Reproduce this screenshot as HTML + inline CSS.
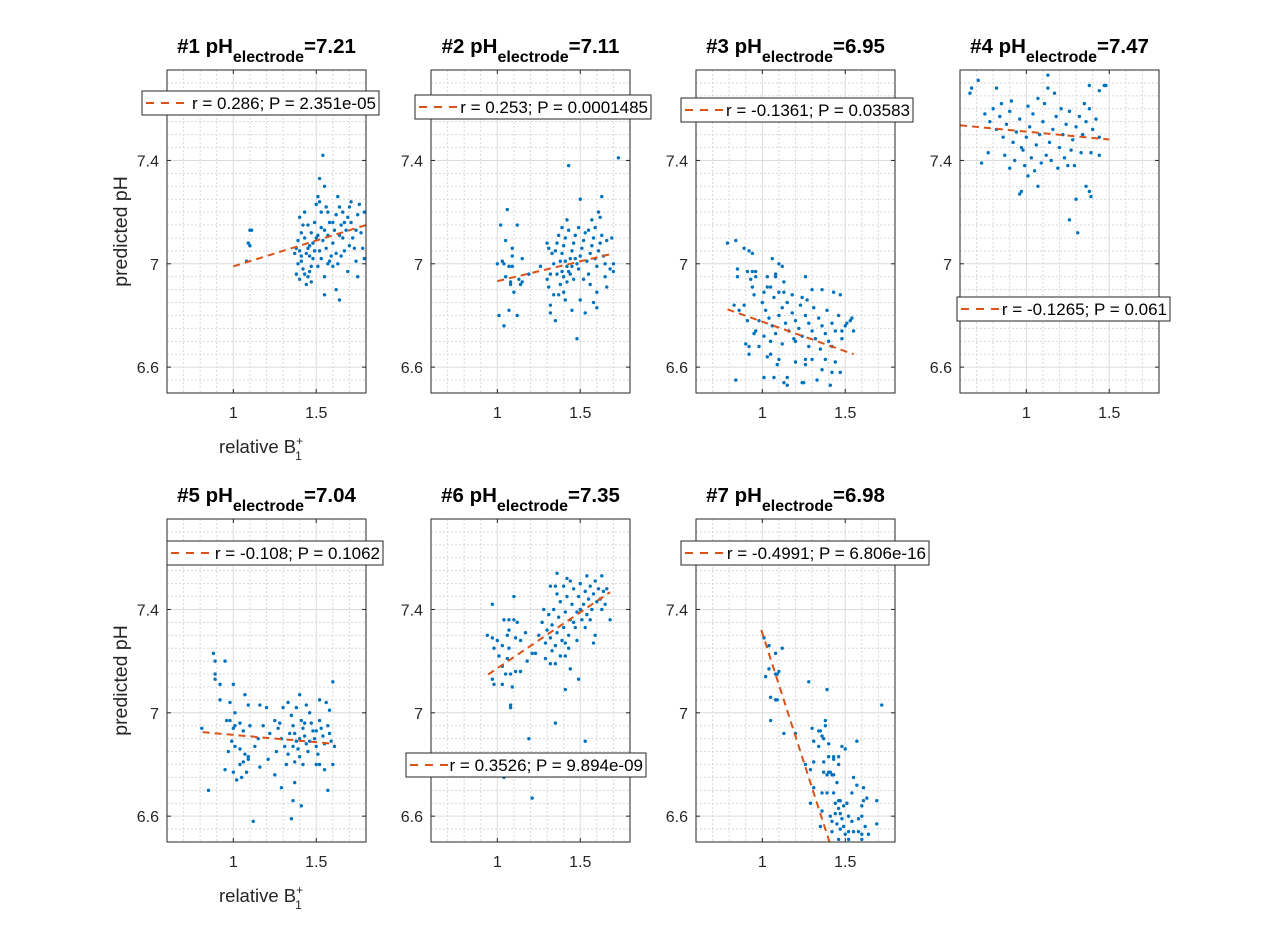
<!DOCTYPE html>
<html><head><meta charset="utf-8"><style>
html,body{margin:0;padding:0;background:#fff;}
svg{display:block;font-family:"Liberation Sans",Arial,sans-serif;}
</style></head><body>
<svg id="fig" width="1280" height="947" viewBox="0 0 1280 947" xmlns="http://www.w3.org/2000/svg"></svg>
<script>
const panelTitles = ["7.21","7.11","6.95","7.47","7.04","7.35","6.98"];
const legendLabels = ["r = 0.286; P = 2.351e-05","r = 0.253; P = 0.0001485","r = -0.1361; P = 0.03583","r = -0.1265; P = 0.061","r = -0.108; P = 0.1062","r = 0.3526; P = 9.894e-09","r = -0.4991; P = 6.806e-16"];
const xTicks = [1, 1.5];
const yTicks = [6.6, 7, 7.4];
const fitX0 = [1.0, 1.0, 0.79, 0.6, 0.815, 0.944, 0.994];
const fitY0 = [6.99, 6.933, 6.824, 7.536, 6.925, 7.148, 7.32];
const fitX1 = [1.8, 1.70, 1.55, 1.50, 1.61, 1.68, 1.45];
const fitY1 = [7.15, 7.04, 6.65, 7.481, 6.88, 7.467, 6.41];

const p1 = [[1.54,7.42],[1.52,7.33],[1.55,7.30],[1.10,7.13],[1.11,7.13],[1.09,7.08],[1.10,7.07],[1.08,7.01],[1.55,6.88],[1.62,6.90],[1.64,6.86],[1.79,7.02],[1.38,7.06],[1.40,7.05],[1.37,7.04],[1.39,7.00],[1.41,7.01],[1.42,6.98],[1.43,6.96],[1.40,6.94],[1.45,6.95],[1.38,6.96],[1.44,6.92],[1.47,6.93],[1.46,6.97],[1.39,7.09],[1.41,7.12],[1.42,7.15],[1.40,7.18],[1.43,7.10],[1.45,7.06],[1.46,7.03],[1.48,7.08],[1.47,7.12],[1.49,7.16],[1.50,7.23],[1.51,7.26],[1.52,7.24],[1.53,7.20],[1.50,7.10],[1.52,7.05],[1.53,7.02],[1.54,7.09],[1.55,7.13],[1.56,7.06],[1.57,7.11],[1.58,7.16],[1.57,7.20],[1.59,7.03],[1.60,7.08],[1.61,7.13],[1.62,7.19],[1.63,7.26],[1.64,7.22],[1.65,7.15],[1.66,7.10],[1.67,7.05],[1.68,7.13],[1.69,7.18],[1.70,7.22],[1.71,7.16],[1.72,7.10],[1.73,7.06],[1.74,7.13],[1.75,7.19],[1.76,7.23],[1.77,7.12],[1.78,7.06],[1.79,7.20],[1.69,6.97],[1.75,6.95],[1.60,6.99],[1.55,6.95],[1.58,7.01],[1.62,7.04],[1.48,7.02],[1.51,6.99],[1.44,7.04],[1.46,7.07],[1.49,7.05],[1.53,7.14],[1.60,7.16],[1.65,7.03],[1.70,7.07],[1.56,7.22],[1.64,7.11],[1.66,7.20],[1.45,7.15],[1.43,7.20],[1.51,7.11],[1.57,7.00],[1.63,7.00],[1.47,6.99],[1.41,7.03],[1.67,7.16],[1.71,7.24],[1.74,7.01]];
const p2 = [[1.73,7.41],[1.43,7.38],[1.50,7.25],[1.63,7.26],[1.06,7.21],[1.02,7.15],[1.12,7.15],[1.05,7.09],[1.09,7.06],[1.09,7.03],[1.15,7.02],[1.0,7.0],[1.03,7.01],[1.04,7.0],[1.07,6.99],[1.09,6.99],[1.05,6.95],[1.08,6.93],[1.08,6.92],[1.10,6.89],[1.13,6.94],[1.15,6.93],[1.14,6.92],[1.19,6.96],[1.26,6.99],[1.01,6.80],[1.07,6.82],[1.12,6.80],[1.04,6.76],[1.35,6.78],[1.48,6.71],[1.53,6.81],[1.32,6.84],[1.32,6.81],[1.42,7.17],[1.39,7.14],[1.57,7.17],[1.61,7.20],[1.62,7.18],[1.59,7.14],[1.66,7.09],[1.69,7.10],[1.70,7.00],[1.70,6.97],[1.68,6.98],[1.65,6.95],[1.66,6.91],[1.60,6.89],[1.60,6.83],[1.58,6.85],[1.50,6.86],[1.45,6.82],[1.41,6.86],[1.40,6.89],[1.37,6.88],[1.34,6.88],[1.31,6.91],[1.30,6.94],[1.32,6.96],[1.30,7.08],[1.31,7.06],[1.33,7.04],[1.35,7.05],[1.36,7.08],[1.38,7.01],[1.39,7.04],[1.40,7.07],[1.41,7.10],[1.42,6.99],[1.43,6.97],[1.44,7.02],[1.45,7.05],[1.46,7.08],[1.47,7.11],[1.48,7.00],[1.49,6.98],[1.50,7.03],[1.51,7.06],[1.52,7.09],[1.53,7.12],[1.54,7.01],[1.55,6.96],[1.56,7.04],[1.57,7.07],[1.58,7.10],[1.59,7.02],[1.60,6.99],[1.61,7.05],[1.62,7.08],[1.63,7.11],[1.64,7.03],[1.65,7.00],[1.40,6.95],[1.42,6.93],[1.44,6.96],[1.38,6.92],[1.36,6.96],[1.46,6.94],[1.52,6.94],[1.56,6.92],[1.34,7.00],[1.37,7.11],[1.43,7.13],[1.49,7.14],[1.55,7.13],[1.45,6.99],[1.47,7.02],[1.41,7.01],[1.39,6.97]];
const p3 = [[0.79,7.08],[0.84,7.09],[0.89,7.06],[0.92,7.05],[0.94,7.04],[1.06,7.02],[1.10,7.0],[1.12,6.99],[0.85,6.98],[0.85,6.95],[0.91,6.97],[0.94,6.97],[0.96,6.97],[0.96,6.95],[0.93,6.94],[1.08,6.96],[1.08,6.95],[1.03,6.95],[1.13,6.93],[1.26,6.95],[0.94,6.91],[1.03,6.91],[0.95,6.88],[1.01,6.89],[1.05,6.91],[1.10,6.89],[1.13,6.89],[1.30,6.90],[1.36,6.90],[1.43,6.89],[1.47,6.88],[1.18,6.88],[1.24,6.87],[0.83,6.84],[0.86,6.82],[0.89,6.84],[0.91,6.78],[0.95,6.73],[0.96,6.74],[0.90,6.69],[0.92,6.68],[0.92,6.65],[0.98,6.68],[0.84,6.55],[1.01,6.56],[1.07,6.56],[1.15,6.56],[1.13,6.54],[1.15,6.53],[1.20,6.62],[1.26,6.63],[1.26,6.61],[1.24,6.54],[1.25,6.54],[1.33,6.55],[1.36,6.59],[1.42,6.58],[1.41,6.53],[1.47,6.58],[1.44,6.62],[1.38,6.63],[1.30,6.63],[1.55,6.74],[1.54,6.79],[1.53,6.78],[1.51,6.77],[1.48,6.71],[1.48,6.74],[1.03,6.64],[1.05,6.65],[1.10,6.63],[1.09,6.61],[1.00,6.85],[1.02,6.82],[1.04,6.79],[1.06,6.76],[1.08,6.73],[1.10,6.80],[1.12,6.83],[1.14,6.77],[1.16,6.74],[1.18,6.81],[1.20,6.78],[1.22,6.75],[1.24,6.72],[1.26,6.80],[1.28,6.77],[1.30,6.74],[1.32,6.71],[1.34,6.79],[1.36,6.76],[1.38,6.73],[1.40,6.70],[1.42,6.77],[1.44,6.74],[1.05,6.70],[1.12,6.69],[1.20,6.70],[1.28,6.68],[1.35,6.67],[1.42,6.68],[0.98,6.78],[1.01,6.72],[1.15,6.85],[1.23,6.84],[1.31,6.83],[1.39,6.82],[1.46,6.80],[1.50,6.76],[1.07,6.87],[1.27,6.86],[1.19,6.71]];
const p4 = [[0.66,7.66],[0.67,7.68],[0.71,7.71],[0.82,7.68],[1.13,7.73],[1.13,7.68],[1.38,7.69],[1.44,7.67],[1.47,7.69],[1.48,7.69],[0.73,7.39],[0.90,7.37],[1.01,7.34],[1.07,7.30],[0.96,7.27],[0.97,7.28],[1.25,7.38],[1.29,7.38],[1.36,7.30],[1.30,7.25],[1.38,7.28],[1.39,7.26],[1.26,7.17],[1.31,7.12],[1.44,7.42],[1.39,7.43],[0.77,7.43],[0.75,7.58],[0.78,7.55],[0.80,7.60],[0.82,7.52],[0.84,7.57],[0.86,7.49],[0.88,7.54],[0.90,7.59],[0.92,7.47],[0.94,7.51],[0.96,7.56],[0.98,7.44],[1.00,7.49],[1.02,7.53],[1.04,7.58],[1.06,7.46],[1.08,7.50],[1.10,7.55],[1.12,7.42],[1.14,7.47],[1.16,7.52],[1.18,7.57],[1.20,7.45],[1.22,7.50],[1.24,7.54],[1.26,7.59],[1.28,7.48],[1.30,7.53],[1.32,7.57],[1.34,7.50],[1.36,7.55],[1.38,7.60],[1.40,7.52],[1.42,7.56],[1.44,7.49],[0.87,7.42],[0.93,7.40],[0.99,7.38],[1.03,7.41],[1.05,7.36],[1.09,7.39],[1.15,7.40],[1.19,7.37],[0.97,7.45],[1.01,7.61],[1.11,7.62],[1.21,7.60],[1.07,7.64],[0.91,7.63],[1.17,7.66],[1.27,7.44],[1.33,7.43],[0.85,7.62],[1.35,7.62],[1.23,7.41]];
const p5 = [[0.88,7.23],[0.89,7.20],[0.95,7.20],[0.89,7.15],[0.89,7.13],[0.92,7.11],[1.00,7.11],[1.07,7.07],[0.92,7.05],[0.98,7.04],[1.09,7.03],[1.16,7.03],[1.20,7.02],[1.40,7.07],[1.60,7.12],[1.52,7.05],[1.56,7.04],[1.58,7.01],[0.81,6.94],[0.85,6.70],[1.12,6.58],[1.35,6.59],[1.41,6.64],[1.36,6.66],[1.29,6.71],[1.37,6.73],[1.25,6.76],[0.95,6.78],[1.00,6.77],[1.02,6.74],[1.05,6.75],[1.08,6.77],[1.16,6.79],[1.60,6.80],[1.55,6.78],[1.57,6.70],[1.50,6.80],[1.52,6.80],[0.97,6.85],[1.04,6.80],[1.06,6.81],[1.09,6.82],[1.21,6.82],[1.01,7.0],[0.96,6.97],[0.98,6.97],[1.01,6.95],[1.0,6.94],[1.04,6.96],[1.06,6.93],[1.10,6.95],[0.99,6.89],[1.01,6.87],[1.04,6.86],[1.07,6.84],[1.09,6.83],[1.25,6.97],[1.27,6.94],[1.29,6.90],[1.31,6.87],[1.33,6.84],[1.35,6.99],[1.36,6.95],[1.37,6.92],[1.38,6.89],[1.39,6.86],[1.40,6.83],[1.41,6.97],[1.42,6.94],[1.43,6.91],[1.44,6.88],[1.45,6.85],[1.46,7.00],[1.47,6.96],[1.48,6.93],[1.49,6.90],[1.50,6.87],[1.51,6.84],[1.52,6.97],[1.53,6.94],[1.54,6.91],[1.55,6.88],[1.57,6.95],[1.58,6.92],[1.59,6.89],[1.61,6.87],[1.30,7.02],[1.33,7.04],[1.38,7.02],[1.44,7.03],[1.32,6.80],[1.37,6.81],[1.42,6.80],[1.28,6.96],[1.34,6.92],[1.40,6.90],[1.46,6.89],[1.36,6.87],[1.43,6.96],[1.50,6.93],[1.22,6.92],[1.18,6.95],[1.15,6.90],[1.13,6.87],[1.26,6.85]];
const p6 = [[1.36,7.54],[1.42,7.52],[1.54,7.53],[1.63,7.53],[1.32,7.49],[1.35,7.49],[0.97,7.42],[1.10,7.45],[1.04,7.36],[1.07,7.36],[1.10,7.36],[1.12,7.35],[0.94,7.30],[0.97,7.29],[1.0,7.28],[0.98,7.25],[1.03,7.26],[1.01,7.22],[1.07,7.32],[1.06,7.30],[1.07,7.25],[1.06,7.21],[1.03,7.18],[1.05,7.15],[1.08,7.15],[1.11,7.16],[1.14,7.16],[0.97,7.13],[0.98,7.11],[1.03,7.11],[1.09,7.10],[1.08,7.03],[1.08,7.02],[1.19,6.90],[1.35,6.96],[1.53,6.89],[1.41,7.09],[1.49,7.13],[1.44,7.17],[1.32,7.19],[1.35,7.19],[1.41,7.22],[1.17,7.31],[1.14,7.28],[1.11,7.29],[1.18,7.20],[1.21,7.23],[1.23,7.23],[1.04,6.75],[1.21,6.67],[1.68,7.36],[1.59,7.30],[1.58,7.27],[1.63,7.40],[1.66,7.48],[1.25,7.30],[1.27,7.35],[1.29,7.27],[1.30,7.32],[1.31,7.38],[1.32,7.29],[1.33,7.34],[1.34,7.40],[1.35,7.26],[1.36,7.31],[1.37,7.37],[1.38,7.43],[1.39,7.28],[1.40,7.33],[1.41,7.39],[1.42,7.45],[1.43,7.30],[1.44,7.36],[1.45,7.42],[1.46,7.48],[1.47,7.33],[1.48,7.39],[1.49,7.45],[1.50,7.50],[1.51,7.36],[1.52,7.42],[1.53,7.47],[1.54,7.38],[1.55,7.44],[1.56,7.49],[1.57,7.40],[1.58,7.46],[1.59,7.51],[1.60,7.43],[1.61,7.48],[1.62,7.44],[1.64,7.47],[1.65,7.42],[1.33,7.24],[1.38,7.22],[1.43,7.25],[1.48,7.28],[1.36,7.46],[1.40,7.49],[1.44,7.51],[1.28,7.40],[1.46,7.35],[1.50,7.40],[1.53,7.33],[1.41,7.27],[1.56,7.36],[1.29,7.21]];
const p7 = [[1.01,7.29],[1.04,7.26],[1.12,7.25],[1.08,7.23],[1.04,7.17],[1.02,7.14],[1.08,7.15],[1.09,7.15],[1.10,7.16],[1.28,7.12],[1.39,7.09],[1.05,7.06],[1.08,7.05],[1.09,7.05],[1.72,7.03],[1.05,6.97],[1.13,6.92],[1.20,6.92],[1.38,6.97],[1.38,6.95],[1.30,6.94],[1.34,6.93],[1.35,6.93],[1.36,6.91],[1.31,6.89],[1.37,6.90],[1.34,6.87],[1.40,6.88],[1.57,6.89],[1.48,6.87],[1.50,6.86],[1.43,6.83],[1.46,6.83],[1.43,6.82],[1.40,6.83],[1.37,6.81],[1.31,6.81],[1.46,6.80],[1.26,6.80],[1.29,6.78],[1.37,6.77],[1.40,6.77],[1.41,6.77],[1.39,6.76],[1.42,6.76],[1.43,6.76],[1.45,6.73],[1.55,6.75],[1.57,6.72],[1.61,6.71],[1.31,6.71],[1.36,6.69],[1.39,6.69],[1.43,6.69],[1.54,6.69],[1.63,6.67],[1.69,6.66],[1.61,6.66],[1.60,6.64],[1.46,6.66],[1.47,6.66],[1.51,6.65],[1.49,6.64],[1.46,6.63],[1.44,6.65],[1.29,6.65],[1.36,6.62],[1.47,6.61],[1.44,6.61],[1.52,6.60],[1.41,6.60],[1.60,6.60],[1.69,6.57],[1.42,6.58],[1.45,6.57],[1.48,6.59],[1.54,6.58],[1.35,6.56],[1.49,6.56],[1.58,6.59],[1.62,6.56],[1.42,6.54],[1.47,6.55],[1.50,6.53],[1.52,6.54],[1.55,6.54],[1.58,6.54],[1.60,6.53],[1.64,6.53],[1.46,6.51],[1.52,6.51],[1.60,6.51]];
const panelData = [p1,p2,p3,p4,p5,p6,p7];

const NS = "http://www.w3.org/2000/svg";
const svg = document.getElementById("fig");
const XMIN = 0.6, XMAX = 1.8, YMIN = 6.5, YMAX = 7.75;
const PW = 199, PH = 323;
const lefts = [167, 431, 696, 960];
const tops = [70, 519];
const legendBoxes = [[142,91,237],[415,95,236],[681,98,232],[957,297,213],[167,541,216],[406,753,240],[681,541,248]];

function mk(tag, attrs, parent) {
  const e = document.createElementNS(NS, tag);
  for (const k in attrs) e.setAttribute(k, attrs[k]);
  (parent || svg).appendChild(e);
  return e;
}

const defs = mk("defs", {});
panelData.forEach((pts, i) => {
  const col = i % 4, row = Math.floor(i / 4);
  const L = lefts[col], T = tops[row];
  const sx = v => L + (v - XMIN) / (XMAX - XMIN) * PW;
  const sy = v => T + PH - (v - YMIN) / (YMAX - YMIN) * PH;

  const g = mk("g", {});
  
  

  const cp = mk("clipPath", {id: "clip" + i}, defs);
  mk("rect", {x: L, y: T, width: PW, height: PH}, cp);

  mk("rect", {x: L, y: T, width: PW, height: PH, fill: "#fff"}, g);
  const grid = mk("g", {}, g);
  
  
  for (let k = 7; k <= 17; k++) {
    const v = k / 10, x = sx(v);
    if (Math.abs(v - 1) < 1e-6 || Math.abs(v - 1.5) < 1e-6) continue;
    mk("line", {x1: x, x2: x, y1: T, y2: T + PH, stroke: "#d8d8d8", "stroke-width": 1, "stroke-dasharray": "2,2"}, grid);
  }
  for (let k = 1; k < 25; k++) {
    const v = YMIN + k * 0.05, y = sy(v);
    if ([6.6, 7, 7.4].some(t => Math.abs(t - v) < 1e-6)) continue;
    mk("line", {x1: L, x2: L + PW, y1: y, y2: y, stroke: "#d8d8d8", "stroke-width": 1, "stroke-dasharray": "2,2"}, grid);
  }
  xTicks.forEach(v => {
    const x = sx(v);
    mk("line", {x1: x, x2: x, y1: T, y2: T + PH, stroke: "#dcdcdc", "stroke-width": 1}, grid);
    mk("line", {x1: x, x2: x, y1: T + PH, y2: T + PH - 4, stroke: "#262626"}, g);
    mk("line", {x1: x, x2: x, y1: T, y2: T + 4, stroke: "#262626"}, g);
    const t = mk("text", {x: x, y: T + PH + 25, "text-anchor": "middle", "font-size": 16, fill: "#262626"}, g);
    
    
    t.textContent = String(v);
  });
  yTicks.forEach(v => {
    const y = sy(v);
    mk("line", {x1: L, x2: L + PW, y1: y, y2: y, stroke: "#dcdcdc", "stroke-width": 1}, grid);
    mk("line", {x1: L, x2: L + 4, y1: y, y2: y, stroke: "#262626"}, g);
    mk("line", {x1: L + PW, x2: L + PW - 4, y1: y, y2: y, stroke: "#262626"}, g);
    const t = mk("text", {x: L - 8, y: y + 6, "text-anchor": "end", "font-size": 16, fill: "#262626"}, g);
    
    
    t.textContent = String(v);
  });

  const pg = mk("g", {"clip-path": "url(#clip" + i + ")"}, g);
  pts.forEach(p => {
    const c = mk("circle", {cx: sx(p[0]), cy: sy(p[1]), r: 1.7, fill: "#0072BD"}, pg);
    
    
  });
  const fl = mk("line", {x1: sx(fitX0[i]), y1: sy(fitY0[i]), x2: sx(fitX1[i]), y2: sy(fitY1[i]), stroke: "#D95319", "stroke-width": 2, "stroke-dasharray": "7,5"}, pg);
  
  

  const box = mk("rect", {x: L, y: T, width: PW, height: PH, fill: "none", stroke: "#262626", "stroke-width": 1}, g);
  
  

  const tt = mk("text", {x: L + PW / 2, y: T - 17, "text-anchor": "middle", "font-size": 20.5, "font-weight": "bold", fill: "#000"}, g);
  
  
  const a = mk("tspan", {}, tt); a.textContent = "#" + (i + 1) + " pH";
  const b = mk("tspan", {dy: 9, "font-size": 16}, tt); b.textContent = "electrode";
  const c2 = mk("tspan", {dy: -9}, tt); c2.textContent = "=" + panelTitles[i];

  const lb = legendBoxes[i];
  const lg = mk("g", {}, g);
  
  
  mk("rect", {x: lb[0], y: lb[1], width: lb[2], height: 24, fill: "#fff", stroke: "#262626", "stroke-width": 1}, lg);
  mk("line", {x1: lb[0] + 4, x2: lb[0] + 43, y1: lb[1] + 12, y2: lb[1] + 12, stroke: "#D95319", "stroke-width": 2, "stroke-dasharray": "8,7"}, lg);
  const lt = mk("text", {x: lb[0] + lb[2] - 3, y: lb[1] + 18, "text-anchor": "end", "font-size": 17, fill: "#000"}, lg);
  
  
  lt.textContent = legendLabels[i];
});

[0, 1].forEach(r => {
  const T = tops[r];
  const yl = mk("text", {x: 0, y: 0, transform: "translate(127," + (T + PH / 2) + ") rotate(-90)", "text-anchor": "middle", "font-size": 19.5, fill: "#262626"});
  
  
  yl.textContent = "predicted pH";
  const xl = mk("text", {x: 219, y: T + PH + 60, "font-size": 18.5, fill: "#262626"});
  
  
  const s1 = mk("tspan", {}, xl); s1.textContent = "relative B";
  const s2 = mk("tspan", {"font-size": 12, dy: -8}, xl); s2.textContent = "+";
  const s3 = mk("tspan", {"font-size": 12, dx: -8, dy: 15}, xl); s3.textContent = "1";
});
</script>
</body></html>
